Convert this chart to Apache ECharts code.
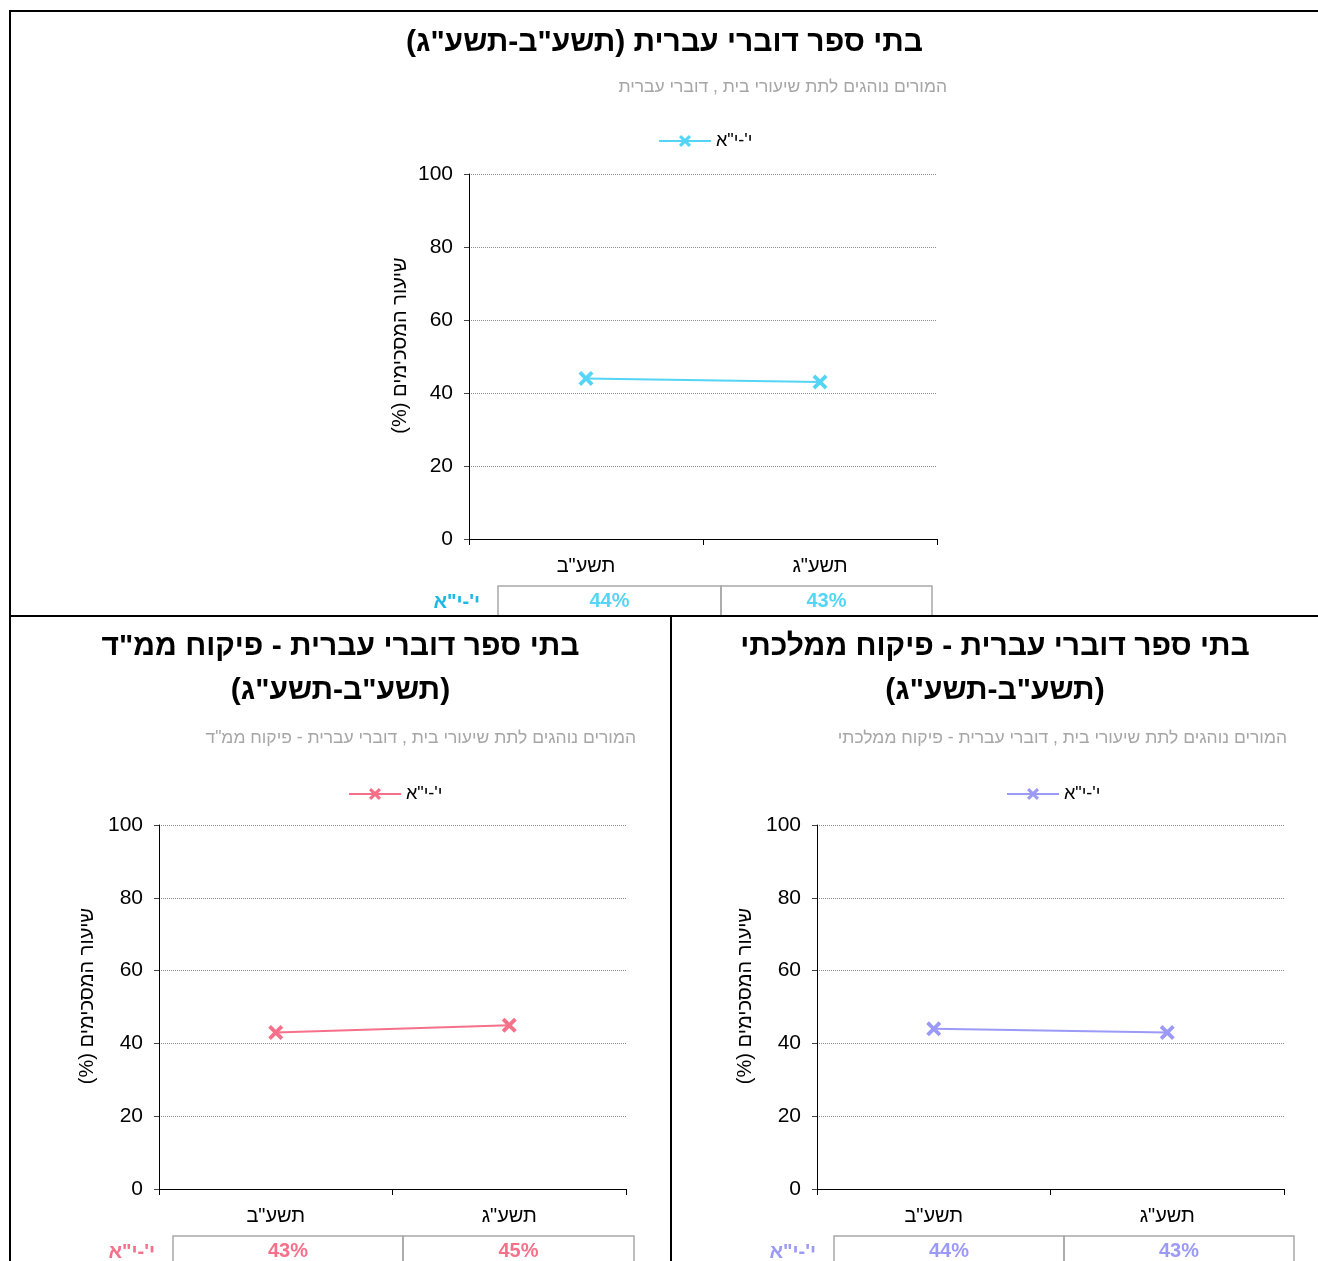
<!DOCTYPE html>
<html>
<head>
<meta charset="utf-8">
<script src="https://cdn.jsdelivr.net/npm/echarts@6/dist/echarts.min.js"></script>
<style>
  html, body { margin:0; padding:0; background:#fff; }
  body { width:1318px; height:1261px; position:relative; overflow:hidden; font-family:"Liberation Sans", Arial, sans-serif; }
  .chart { position:absolute; }
  .line { position:absolute; background:#000; }
</style>
</head>
<body>
<div id="c1" class="chart" dir="rtl" style="left:11px;top:12px;width:1307px;height:603px;"></div>
<div id="c2" class="chart" dir="rtl" style="left:11px;top:617px;width:659px;height:644px;"></div>
<div id="c3" class="chart" dir="rtl" style="left:672px;top:617px;width:646px;height:644px;"></div>
<div class="line" style="left:10px;top:10px;width:1308px;height:2px;"></div>
<div class="line" style="left:9px;top:10px;width:2px;height:1251px;"></div>
<div class="line" style="left:10px;top:615px;width:1308px;height:2px;"></div>
<div class="line" style="left:670px;top:615px;width:2px;height:646px;"></div>
<script>
// ---- data ----
const categories = ['תשע"ב', 'תשע"ג'];
const seriesName = 'י\'-י"א';
const valuesAll = [44, 43];
const valuesMamad = [43, 45];
const valuesMamlachti = [44, 43];
const yMin = 0, yMax = 100, yInterval = 20;

const titles = [
  'בתי ספר דוברי עברית (תשע"ב-תשע"ג)',
  'בתי ספר דוברי עברית - פיקוח ממ"ד\n(תשע"ב-תשע"ג)',
  'בתי ספר דוברי עברית - פיקוח ממלכתי\n(תשע"ב-תשע"ג)'
];
const subtitles = [
  'המורים נוהגים לתת שיעורי בית , דוברי עברית',
  'המורים נוהגים לתת שיעורי בית , דוברי עברית - פיקוח ממ"ד',
  'המורים נוהגים לתת שיעורי בית , דוברי עברית - פיקוח ממלכתי'
];
const yName = 'שיעור המסכימים (%)';

const FONT = '"Liberation Sans", Arial, sans-serif';
const xSymbol = 'path://M0,1.8 L1.8,0 L5,3.2 L8.2,0 L10,1.8 L6.8,5 L10,8.2 L8.2,10 L5,6.8 L1.8,10 L0,8.2 L3.2,5 Z';

function build(el, cfg) {
  const chart = echarts.init(el, null, {renderer:'canvas'});
  const g = cfg.grid;
  const tbl = [];
  let x = cfg.tableX;
  cfg.values.forEach((v, i) => {
    const w = cfg.cellW[i];
    tbl.push({type:'rect', shape:{x:x, y:cfg.tableY, width:w, height:40},
      style:{fill:'none', stroke:'#a8a8a8', lineWidth:1.5}, silent:true});
    tbl.push({type:'text', x:x + w/2, y:cfg.tableY + 15,
      style:{text: v + '%', fill:cfg.color, font:'bold 20px ' + FONT, align:'center', verticalAlign:'middle'}});
    x += w;
  });
  tbl.push({type:'text', x:cfg.tableX - 18, y:cfg.tableY + 16,
    style:{text: seriesName, fill:cfg.labelColor, font:'bold 20px ' + FONT, align:'right', verticalAlign:'middle'}});

  chart.setOption({
    backgroundColor:'#fff',
    animation:false,
    textStyle:{fontFamily:FONT},
    title:[
      {text:cfg.title, left:'center', top:cfg.titleTop,
        textStyle:{fontSize:30, fontWeight:'bold', color:'#000', lineHeight:44, fontFamily:FONT}},
      {text:cfg.subtitle, right:cfg.subRight, top:cfg.subTop,
        textStyle:{fontSize:17.5, fontWeight:'normal', color:'#a6a6a6', fontFamily:FONT}}
    ],
    legend:{
      left:cfg.legendLeft, top:cfg.legendTop,
      itemWidth:52, itemHeight:15, itemGap:4,
      textStyle:{fontSize:18, color:'#000', fontFamily:FONT},
      data:[seriesName]
    },
    grid:{left:g.left, top:g.top, width:g.width, height:g.height, containLabel:false},
    xAxis:{
      type:'category', data:categories, boundaryGap:true,
      axisLine:{lineStyle:{color:'#000', width:1}},
      axisTick:{show:true, alignWithLabel:false, length:6, lineStyle:{color:'#000'}},
      axisLabel:{fontSize:20, color:'#000', margin:17, fontFamily:FONT},
      splitLine:{show:false}
    },
    yAxis:{
      type:'value', min:yMin, max:yMax, interval:yInterval,
      name:yName, nameLocation:'middle', nameGap:59,
      nameTextStyle:{fontSize:20, color:'#000', fontFamily:FONT, padding:[0,0,0,22]},
      axisLine:{show:true, lineStyle:{color:'#000', width:1}},
      axisTick:{show:true, length:5, lineStyle:{color:'#444'}},
      axisLabel:{fontSize:21, color:'#000', margin:16, fontFamily:FONT},
      splitLine:{show:true, lineStyle:{color:'#8c8c8c', type:[1,1], width:1}}
    },
    series:[{
      type:'line', name:seriesName, data:cfg.values,
      symbol:xSymbol, symbolSize:15,
      lineStyle:{color:cfg.color, width:2},
      itemStyle:{color:cfg.color, borderWidth:0}
    }],
    graphic:tbl
  });
}

build(document.getElementById('c1'), {
  values:valuesAll, color:'#55D5F5', labelColor:'#1CB8E6',
  title:titles[0], titleTop:4, subtitle:subtitles[0], subRight:366, subTop:61,
  legendLeft:642, legendTop:115,
  grid:{left:458, top:162, width:468, height:365},
  tableX:487, tableY:574, cellW:[223, 211]
});
build(document.getElementById('c2'), {
  values:valuesMamad, color:'#F7708A', labelColor:'#F7708A',
  title:titles[1], titleTop:3, subtitle:subtitles[1], subRight:29, subTop:107,
  legendLeft:332, legendTop:163,
  grid:{left:148, top:208, width:467, height:364},
  tableX:162, tableY:619, cellW:[230, 231]
});
build(document.getElementById('c3'), {
  values:valuesMamlachti, color:'#9C9AF7', labelColor:'#9C9AF7',
  title:titles[2], titleTop:3, subtitle:subtitles[2], subRight:26, subTop:107,
  legendLeft:329, legendTop:163,
  grid:{left:145, top:208, width:467, height:364},
  tableX:162, tableY:619, cellW:[230, 230]
});
</script>
</body>
</html>
